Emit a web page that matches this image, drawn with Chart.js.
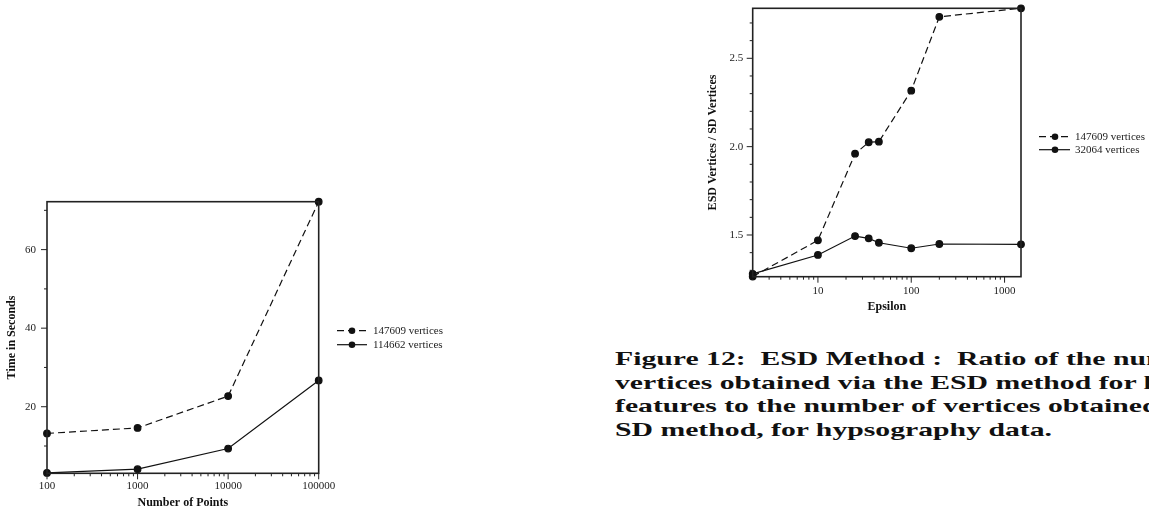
<!DOCTYPE html>
<html>
<head>
<meta charset="utf-8">
<script src="https://cdn.jsdelivr.net/npm/chart.js@4.4.1/dist/chart.umd.min.js"></script>
<style>
  html, body { margin: 0; padding: 0; background: #fff; }
  body { width: 1149px; height: 515px; position: relative; overflow: hidden; }
  canvas { position: absolute; }
  #time-chart { left: 0; top: 190px; }
  #ratio-chart { left: 690px; top: 0; }
  #caption {
    position: absolute; left: 615px; top: 347px;
    font: bold 19px "Liberation Serif", serif; line-height: 23.5px;
    white-space: pre; color: #111; transform-origin: 0 0;
  }
</style>
</head>
<body>
<canvas id="time-chart" width="460" height="325"></canvas>
<canvas id="ratio-chart" width="459" height="320"></canvas>
<div id="caption"><span>Figure 12:  ESD Method :  Ratio of the number of</span>
<span>vertices obtained via the ESD method for linear</span>
<span>features to the number of vertices obtained via the</span>
<span id="last-line">SD method, for hypsography data.</span></div>

<script>
// left chart: timing
const pointCounts = [100, 1000, 10000, 100000];
const time147609 = [13.2, 14.6, 22.7, 72.2];
const time114662 = [3.15, 4.1, 9.35, 26.7];
const timeYMajor = [20, 40, 60];
const timeYMinor = [10, 30, 50, 70];
const timeXMajor = [100, 1000, 10000, 100000];

// right chart: ESD / SD ratio
const epsilons = [2, 10, 25, 35, 45, 100, 200, 1500];
const ratio147609 = [1.265, 1.47, 1.96, 2.025, 2.028, 2.317, 2.735, 2.783];
const ratio32064 = [1.28, 1.387, 1.494, 1.481, 1.456, 1.425, 1.449, 1.447];
const ratioYMajor = [1.5, 2.0, 2.5];
const ratioYMinor = [1.3, 1.4, 1.6, 1.7, 1.8, 1.9, 2.1, 2.2, 2.3, 2.4, 2.6, 2.7];
const ratioXMajor = [10, 100, 1000];

const INK = "#111";
const SERIF = "'Liberation Serif', 'Times New Roman', serif";

function logMinors(lo, hi) {
  const out = [];
  for (let dec = 1; dec <= 100000; dec *= 10) {
    for (let m = 2; m <= 9; m++) {
      const v = m * dec;
      if (v > lo && v < hi) out.push(v);
    }
  }
  return out;
}

function toXY(xs, ys) {
  return xs.map((x, i) => ({ x, y: ys[i] }));
}

// box + outward tick marks
const frameTicks = {
  id: "frameTicks",
  afterDraw(chart, args, opts) {
    const { ctx, chartArea: a, scales } = chart;
    ctx.save();
    ctx.strokeStyle = "#222";
    ctx.lineWidth = 1;
    const tick = (x1, y1, x2, y2) => {
      ctx.beginPath();
      ctx.moveTo(x1, y1);
      ctx.lineTo(x2, y2);
      ctx.stroke();
    };
    opts.xMajor.forEach((v) => { const p = scales.x.getPixelForValue(v); tick(p, a.bottom, p, a.bottom + 6); });
    opts.xMinor.forEach((v) => { const p = scales.x.getPixelForValue(v); tick(p, a.bottom, p, a.bottom + 3); });
    opts.yMajor.forEach((v) => { const p = scales.y.getPixelForValue(v); tick(a.left, p, a.left - 6, p); });
    opts.yMinor.forEach((v) => { const p = scales.y.getPixelForValue(v); tick(a.left, p, a.left - 3, p); });
    ctx.lineWidth = 1.6;
    ctx.strokeRect(a.left, a.top, a.right - a.left, a.bottom - a.top);
    ctx.restore();
  },
};

// legend to the right of the plot, line sample with a dot
const sideLegend = {
  id: "sideLegend",
  afterDraw(chart, args, opts) {
    const { ctx } = chart;
    ctx.save();
    chart.data.datasets.forEach((ds, i) => {
      const y = opts.ys[i];
      ctx.strokeStyle = INK;
      ctx.lineWidth = 1.2;
      ctx.setLineDash(ds.borderDash || []);
      ctx.beginPath();
      ctx.moveTo(opts.x1, y);
      ctx.lineTo(opts.x2, y);
      ctx.stroke();
      ctx.setLineDash([]);
      ctx.fillStyle = INK;
      ctx.beginPath();
      ctx.arc(opts.dotX, y, 3.3, 0, Math.PI * 2);
      ctx.fill();
      ctx.font = "11px " + SERIF;
      ctx.fillStyle = "#222";
      ctx.textBaseline = "middle";
      ctx.textAlign = "left";
      ctx.fillText(ds.label, opts.textX, y);
    });
    ctx.restore();
  },
};

function makeDataset(label, data, dashed) {
  return {
    label,
    data,
    borderColor: INK,
    backgroundColor: INK,
    borderWidth: 1.2,
    borderDash: dashed ? [7, 4] : [],
    pointRadius: 3.3,
    pointBackgroundColor: INK,
    pointBorderColor: INK,
    tension: 0,
    clip: false,
  };
}

function makeChart(canvasId, cfg) {
  return new Chart(document.getElementById(canvasId), {
    type: "line",
    data: { datasets: cfg.datasets },
    options: {
      responsive: false,
      animation: false,
      devicePixelRatio: 1,
      layout: { padding: cfg.padding },
      plugins: {
        legend: { display: false },
        tooltip: { enabled: false },
        frameTicks: cfg.ticks,
        sideLegend: cfg.legend,
      },
      scales: {
        x: {
          type: "logarithmic",
          min: cfg.xMin,
          max: cfg.xMax,
          grid: { display: false, drawTicks: false },
          border: { display: false },
          afterBuildTicks: (s) => { s.ticks = cfg.ticks.xMajor.map((v) => ({ value: v })); },
          afterFit: (s) => {
            s.height = cfg.xHeight;
            s.paddingLeft = 0;
            s.paddingRight = 0;
          },
          ticks: {
            autoSkip: false,
            maxRotation: 0,
            padding: cfg.xLabelPad,
            color: "#222",
            font: { family: SERIF, size: 11 },
            callback: (v) => String(v),
          },
          title: {
            display: true,
            text: cfg.xTitle,
            color: "#111",
            font: { family: SERIF, size: 12, weight: "bold" },
            padding: { top: 0, bottom: cfg.xTitlePad },
          },
        },
        y: {
          type: "linear",
          min: cfg.yMin,
          max: cfg.yMax,
          grid: { display: false, drawTicks: false },
          border: { display: false },
          afterBuildTicks: (s) => { s.ticks = cfg.ticks.yMajor.map((v) => ({ value: v })); },
          afterFit: (s) => {
            s.width = cfg.yWidth;
            s.paddingTop = 0;
            s.paddingBottom = 0;
          },
          ticks: {
            autoSkip: false,
            padding: cfg.yLabelPad,
            color: "#222",
            font: { family: SERIF, size: 11 },
            callback: cfg.yFormat,
          },
          title: {
            display: true,
            text: cfg.yTitle,
            color: "#111",
            font: { family: SERIF, size: 12, weight: "bold" },
            padding: { top: cfg.yTitlePad, bottom: 0 },
          },
        },
      },
    },
    plugins: [frameTicks, sideLegend],
  });
}

makeChart("time-chart", {
  datasets: [
    makeDataset("147609 vertices", toXY(pointCounts, time147609), true),
    makeDataset("114662 vertices", toXY(pointCounts, time114662), false),
  ],
  padding: { left: 0, top: 11.7, right: 141.3, bottom: 0 },
  xMin: 100, xMax: 100000,
  yMin: 3.05, yMax: 72.2,
  xHeight: 41.7, yWidth: 47,
  xLabelPad: 6, yLabelPad: 11,
  xTitle: "Number of Points", xTitlePad: 5,
  yTitle: "Time in Seconds", yTitlePad: 4.8,
  yFormat: (v) => String(v),
  ticks: { xMajor: timeXMajor, xMinor: logMinors(100, 100000), yMajor: timeYMajor, yMinor: timeYMinor },
  legend: { x1: 337, x2: 367, dotX: 352, textX: 373, ys: [140.7, 154.7] },
});

makeChart("ratio-chart", {
  datasets: [
    makeDataset("147609 vertices", toXY(epsilons, ratio147609), true),
    makeDataset("32064 vertices", toXY(epsilons, ratio32064), false),
  ],
  padding: { left: 0, top: 8.3, right: 128, bottom: 0 },
  xMin: 2, xMax: 1500,
  yMin: 1.264, yMax: 2.783,
  xHeight: 43.3, yWidth: 62.7,
  xLabelPad: 7.4, yLabelPad: 9.4,
  xTitle: "Epsilon", xTitlePad: 6,
  yTitle: "ESD Vertices / SD Vertices", yTitlePad: 15.5,
  yFormat: (v) => Number(v).toFixed(1),
  ticks: { xMajor: ratioXMajor, xMinor: logMinors(2, 1500), yMajor: ratioYMajor, yMinor: ratioYMinor },
  legend: { x1: 349, x2: 380, dotX: 365, textX: 385, ys: [136.7, 149.7] },
});

// stretch the caption so its last line matches the printed width
const caption = document.getElementById("caption");
const lastLine = document.getElementById("last-line");
const natural = lastLine.getBoundingClientRect().width;
caption.style.transform = `scaleX(${437 / natural})`;
</script>
</body>
</html>
